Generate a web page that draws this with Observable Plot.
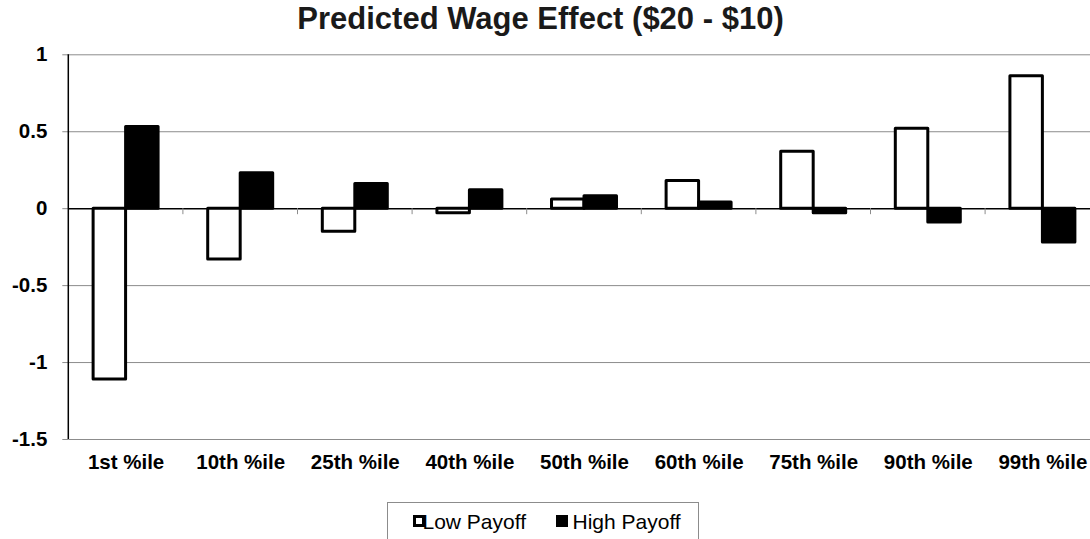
<!DOCTYPE html>
<html>
<head>
<meta charset="utf-8">
<script src="https://cdn.jsdelivr.net/npm/d3@7"></script>
<script src="https://cdn.jsdelivr.net/npm/@observablehq/plot@0.6"></script>
<style>
  html, body { margin: 0; padding: 0; overflow: hidden; background: #fff; width: 1090px; height: 539px; }
  #wrap { position: relative; width: 1090px; height: 539px; overflow: hidden; font-family: "Liberation Sans", Arial, sans-serif; }
  #title { position: absolute; left: 0; top: 1px; width: 1081px; text-align: center; font-size: 31px; font-weight: bold; color: #1a1a1a; line-height: normal; white-space: nowrap; }
  #chart { position: absolute; left: 0; top: 40px; width: 1100px; }
  #chart svg { max-width: none !important; }
  #legend { position: absolute; left: 387px; top: 502px; width: 312px; height: 60px; border: 1px solid #8c8c8c; box-sizing: border-box; font-size: 21px; line-height: 21px; color: #000; }
  #legend .sw { position: absolute; top: 11.5px; width: 12px; height: 12px; box-sizing: border-box; }
  #legend .lab { position: absolute; top: 7.5px; white-space: nowrap; }
</style>
</head>
<body>
<div id="wrap">
  <div id="title">Predicted Wage Effect ($20 - $10)</div>
  <div id="chart"></div>
  <div id="legend"></div>
</div>
<script>
// ---- data ----
const categories = ["1st %ile", "10th %ile", "25th %ile", "40th %ile", "50th %ile", "60th %ile", "75th %ile", "90th %ile", "99th %ile"];
const lowPayoff  = [-1.11, -0.33, -0.15, -0.03, 0.06, 0.18, 0.37, 0.52, 0.86];
const highPayoff = [0.53, 0.23, 0.16, 0.12, 0.08, 0.04, -0.03, -0.09, -0.22];
const seriesNames = ["Low Payoff", "High Payoff"];
const yTicks = [1, 0.5, 0, -0.5, -1, -1.5];

const low = categories.map((c, i) => ({category: c, series: seriesNames[0], value: lowPayoff[i]}));
const high = categories.map((c, i) => ({category: c, series: seriesNames[1], value: highPayoff[i]}));

const plot = Plot.plot({
  width: 1100,
  height: 454,
  marginLeft: 68.3,
  marginRight: 0.3,
  marginTop: 14.3,
  marginBottom: 55,
  style: {fontFamily: "'Liberation Sans', Arial, sans-serif", fontSize: "20px", fontWeight: "bold", color: "#000", background: "transparent", maxWidth: "none"},
  x: {domain: categories, paddingInner: 0.433, paddingOuter: 0.2165, round: false, label: null},
  y: {domain: [-1.5, 1], ticks: yTicks, label: null},
  marks: [
    Plot.ruleY(yTicks.filter(d => d !== 0), {stroke: "#8c8c8c", strokeWidth: 1}),
    Plot.axisY({ticks: yTicks, tickSize: 6, tickPadding: 15.5, stroke: "#8c8c8c", fill: "#000", fontSize: 20.5, fontWeight: "bold", tickFormat: d => String(d), label: null}),
    Plot.axisX({tickSize: 0, tickPadding: 15, fill: "#000", fontSize: 20.5, fontWeight: "bold", label: null}),
    Plot.ruleY([0], {stroke: "#000", strokeWidth: 1.5}),
    Plot.barY(low, {x: "category", y1: 0, y2: "value", fill: "#fff", stroke: "#000", strokeWidth: 3, strokeLinejoin: "round", insetRight: 32.5}),
    Plot.barY(high, {x: "category", y1: 0, y2: "value", fill: "#000", stroke: "#000", strokeWidth: 3, strokeLinejoin: "round", insetLeft: 32.5})
  ]
});

// axis line and category separator ticks, placed via the plot's own scales
const xs = plot.scale("x");
const ys = plot.scale("y");
const x0 = xs.range[0];
const step = (xs.range[1] - xs.range[0]) / categories.length;
const svgEl = plot.tagName.toLowerCase() === "svg" ? plot : plot.querySelector("svg");
svgEl.style.maxWidth = "none";
const svg = d3.select(svgEl);
const g = svg.append("g");
const y0 = ys.apply(0);
for (let k = 1; k < categories.length; k++) {
  g.append("line").attr("x1", x0 + k * step).attr("x2", x0 + k * step)
    .attr("y1", y0).attr("y2", y0 + 6).attr("stroke", "#8c8c8c").attr("stroke-width", 1);
}
g.append("line").attr("x1", x0).attr("x2", x0)
  .attr("y1", ys.apply(yTicks[0])).attr("y2", ys.apply(yTicks[yTicks.length - 1]))
  .attr("stroke", "#000").attr("stroke-width", 1.5);

document.getElementById("chart").appendChild(plot);

// legend
const legend = document.getElementById("legend");
const items = [
  {name: seriesNames[0], swLeft: 24.5, labLeft: 34.5, sw: "background:#fff;border:3px solid #000;"},
  {name: seriesNames[1], swLeft: 168, labLeft: 184.5, sw: "background:#000;"}
];
for (const it of items) {
  const s = document.createElement("div");
  s.className = "sw";
  s.style.cssText = `left:${it.swLeft}px;${it.sw}`;
  legend.appendChild(s);
  const t = document.createElement("div");
  t.className = "lab";
  t.style.left = it.labLeft + "px";
  t.textContent = it.name;
  legend.appendChild(t);
}
</script>
</body>
</html>
